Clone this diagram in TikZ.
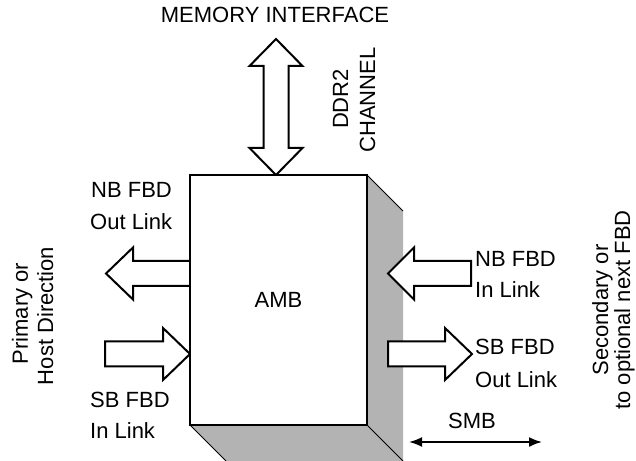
\documentclass[tikz,border=0pt]{standalone}
\usepackage{fontspec}
\setmainfont{Liberation Sans}
\usetikzlibrary{arrows.meta}
\definecolor{shadegray}{RGB}{179,179,179}
\begin{document}
\begin{tikzpicture}[x=1pt,y=1pt,
  lbl/.style={font=\fontsize{22}{26}\selectfont, inner sep=0pt},
  blk/.style={draw=black, fill=white, line width=2pt, line join=miter},
  depthedge/.style={line width=1pt}]
\useasboundingbox (0,0) rectangle (636,460);
\clip (0,0) rectangle (636,460);
% shaded depth faces
\fill[shadegray] (190,35) -- (367,35) -- (367,285) -- (403,249) -- (403,-1) -- (226,-1) -- cycle;
\draw[depthedge] (367,285) -- (403,249);
\draw[depthedge] (367,35) -- (403,-1);
\draw[depthedge] (190,35) -- (226,-1);
% memory interface double arrow
\draw[blk] (276,421) -- (302.5,394) -- (288.5,394) -- (288.5,312) -- (302.5,312) -- (276,285) -- (249.5,312) -- (263.5,312) -- (263.5,394) -- (249.5,394) -- cycle;
% left: NB out
\draw[blk] (190,199) -- (133,199) -- (133,212.5) -- (106,186.5) -- (133,160.5) -- (133,174) -- (190,174);
% left: SB in
\draw[blk] (105,118.5) -- (163,118.5) -- (163,132) -- (190,106) -- (163,80) -- (163,93.5) -- (105,93.5) -- cycle;
% front face
\node[lbl, draw, line width=2pt, fill=white, minimum width=177pt, minimum height=250pt] (amb) at (278.5,160) {AMB};
% right: NB in
\draw[blk] (471,199) -- (414,199) -- (414,212.5) -- (388,186.5) -- (414,160.5) -- (414,174) -- (471,174) -- cycle;
% right: SB out
\draw[blk] (388,118.5) -- (445,118.5) -- (445,132) -- (472,106) -- (445,80) -- (445,93.5) -- (388,93.5) -- cycle;
% SMB
\coordinate (smbL) at (409,18);
\coordinate (smbR) at (542,18);
\draw[line width=1.8pt, {Latex[length=13pt,width=10pt]}-{Latex[length=13pt,width=10pt]}] (smbL) -- (smbR);
% labels
\node[lbl, anchor=base] (mi) at (275,437) {MEMORY INTERFACE};
\node[lbl, anchor=base, rotate=90] (ddr) at (348,361) {DDR2};
\node[lbl, anchor=base, rotate=90] (chan) at (375,360) {CHANNEL};
\node[lbl, anchor=base west] (nbo1) at (91,262) {NB FBD};
\node[lbl, anchor=base west] (nbo2) at (90,230) {Out Link};
\node[lbl, anchor=base west] (sbi1) at (90,53) {SB FBD};
\node[lbl, anchor=base west] (sbi2) at (90,22) {In Link};
\node[lbl, anchor=base west] (nbi1) at (475,193) {NB FBD};
\node[lbl, anchor=base west] (nbi2) at (475,162) {In Link};
\node[lbl, anchor=base west] (sbo1) at (475,105) {SB FBD};
\node[lbl, anchor=base west] (sbo2) at (475,73) {Out Link};
\node[lbl, anchor=base] (smb) at (472,32) {SMB};
\node[lbl, anchor=base, rotate=90] (pri1) at (28,146.5) {Primary or};
\node[lbl, anchor=base, rotate=90] (pri2) at (53,144) {Host Direction};
\node[lbl, anchor=base, rotate=90] (sec1) at (608,150) {Secondary or};
\node[lbl, anchor=base, rotate=90] (sec2) at (630,150) {to optional next FBD};
\end{tikzpicture}
\end{document}
